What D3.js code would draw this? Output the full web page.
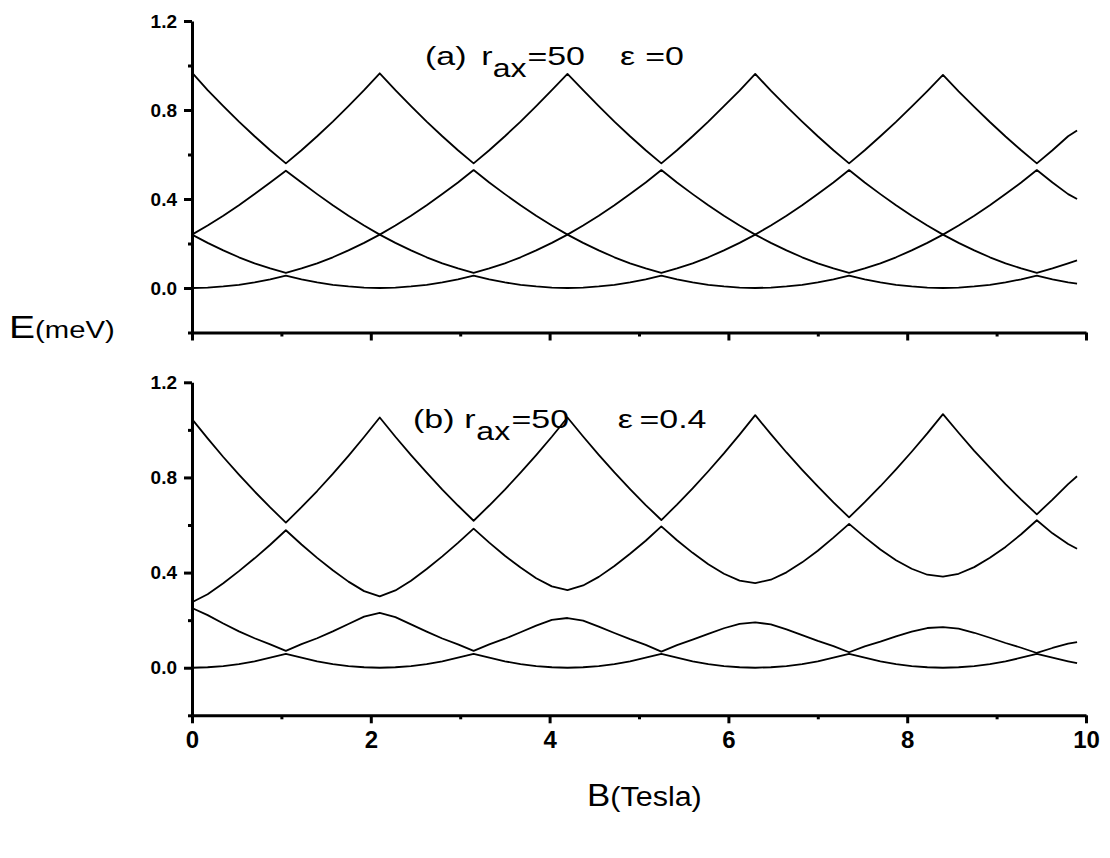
<!DOCTYPE html>
<html lang="en">
<head>
<meta charset="utf-8">
<title>E(meV) vs B(Tesla)</title>
<script src="https://cdn.jsdelivr.net/npm/d3@7"></script>
<style>
  body { margin: 0; background: #fff; }
  svg { display: block; }
  .axis path, .axis line { stroke: #000; stroke-width: 3; }
  .axis text { fill: #000; }
  .level { fill: none; stroke: #000; stroke-width: 1.8; stroke-linejoin: round; }
  .lbl { font-family: "Liberation Sans", Arial, sans-serif; fill: #000; }
</style>
</head>
<body>
<svg id="chart" width="1110" height="858"></svg>
<script>
// magnetic field samples (Tesla)
var bField = [0, 0.175, 0.35, 0.525, 0.7, 0.875, 1.05, 1.225, 1.4, 1.575, 1.75, 1.925,
  2.1, 2.275, 2.45, 2.625, 2.8, 2.975, 3.15, 3.325, 3.5, 3.675, 3.85, 4.025,
  4.2, 4.375, 4.55, 4.725, 4.9, 5.075, 5.25, 5.425, 5.6, 5.775, 5.95, 6.125,
  6.3, 6.475, 6.65, 6.825, 7.0, 7.175, 7.35, 7.525, 7.7, 7.875, 8.05, 8.225,
  8.4, 8.575, 8.75, 8.925, 9.1, 9.275, 9.45, 9.625, 9.8, 9.9];

// (a) eps = 0, four lowest levels (meV)
var topE1 = [0, 0.002, 0.007, 0.014, 0.025, 0.039, 0.056, 0.039, 0.025, 0.014, 0.007, 0.002,
  0, 0.002, 0.007, 0.014, 0.025, 0.039, 0.056, 0.039, 0.025, 0.014, 0.007, 0.002,
  0, 0.002, 0.007, 0.014, 0.025, 0.039, 0.056, 0.039, 0.025, 0.014, 0.007, 0.002,
  0, 0.002, 0.007, 0.014, 0.025, 0.039, 0.056, 0.039, 0.025, 0.014, 0.007, 0.002,
  0, 0.002, 0.007, 0.014, 0.025, 0.039, 0.056, 0.039, 0.025, 0.020];
var topE2 = [0.240, 0.203, 0.169, 0.138, 0.111, 0.088, 0.068, 0.088, 0.111, 0.138, 0.169, 0.203,
  0.240, 0.203, 0.169, 0.138, 0.111, 0.088, 0.068, 0.088, 0.111, 0.138, 0.169, 0.203,
  0.240, 0.203, 0.169, 0.138, 0.111, 0.088, 0.068, 0.088, 0.111, 0.138, 0.169, 0.203,
  0.240, 0.203, 0.169, 0.138, 0.111, 0.088, 0.068, 0.088, 0.111, 0.138, 0.169, 0.203,
  0.240, 0.203, 0.169, 0.138, 0.111, 0.088, 0.068, 0.088, 0.111, 0.124];
var topE3 = [0.240, 0.281, 0.325, 0.372, 0.422, 0.474, 0.527, 0.474, 0.422, 0.372, 0.325, 0.281,
  0.240, 0.281, 0.325, 0.372, 0.422, 0.474, 0.530, 0.474, 0.422, 0.372, 0.325, 0.281,
  0.240, 0.281, 0.325, 0.372, 0.422, 0.474, 0.530, 0.474, 0.422, 0.372, 0.325, 0.281,
  0.240, 0.281, 0.325, 0.372, 0.422, 0.474, 0.530, 0.474, 0.422, 0.372, 0.325, 0.281,
  0.240, 0.281, 0.325, 0.372, 0.422, 0.474, 0.530, 0.474, 0.422, 0.400];
var topE4 = [0.968, 0.889, 0.817, 0.748, 0.682, 0.619, 0.560, 0.619, 0.682, 0.748, 0.817, 0.889,
  0.965, 0.889, 0.817, 0.748, 0.682, 0.619, 0.560, 0.619, 0.682, 0.748, 0.817, 0.889,
  0.962, 0.889, 0.817, 0.748, 0.682, 0.619, 0.560, 0.619, 0.682, 0.748, 0.817, 0.887,
  0.962, 0.887, 0.816, 0.748, 0.682, 0.619, 0.560, 0.619, 0.682, 0.747, 0.815, 0.885,
  0.958, 0.884, 0.814, 0.746, 0.681, 0.619, 0.560, 0.619, 0.682, 0.708];

// (b) eps = 0.4
var botE1 = [0, 0.002, 0.007, 0.015, 0.027, 0.042, 0.058, 0.042, 0.027, 0.015, 0.007, 0.002,
  0, 0.002, 0.007, 0.015, 0.027, 0.042, 0.058, 0.042, 0.027, 0.015, 0.007, 0.002,
  0, 0.002, 0.007, 0.015, 0.027, 0.042, 0.058, 0.042, 0.027, 0.015, 0.007, 0.002,
  0, 0.002, 0.007, 0.015, 0.027, 0.042, 0.058, 0.042, 0.027, 0.015, 0.007, 0.002,
  0, 0.002, 0.007, 0.015, 0.027, 0.042, 0.058, 0.042, 0.027, 0.019];
var botE2 = [0.251, 0.221, 0.186, 0.153, 0.124, 0.098, 0.071, 0.099, 0.124, 0.153, 0.184, 0.215,
  0.231, 0.213, 0.182, 0.152, 0.123, 0.098, 0.071, 0.098, 0.122, 0.149, 0.177, 0.201,
  0.209, 0.198, 0.173, 0.146, 0.120, 0.096, 0.068, 0.095, 0.118, 0.142, 0.166, 0.184,
  0.191, 0.182, 0.161, 0.137, 0.113, 0.091, 0.065, 0.090, 0.110, 0.132, 0.152, 0.167,
  0.171, 0.164, 0.147, 0.126, 0.104, 0.084, 0.062, 0.083, 0.101, 0.108];
var botE3 = [0.275, 0.309, 0.355, 0.406, 0.460, 0.517, 0.578, 0.518, 0.462, 0.410, 0.362, 0.322,
  0.300, 0.325, 0.366, 0.415, 0.468, 0.525, 0.585, 0.526, 0.471, 0.421, 0.376, 0.342,
  0.326, 0.346, 0.382, 0.428, 0.479, 0.534, 0.594, 0.536, 0.483, 0.435, 0.395, 0.366,
  0.356, 0.370, 0.401, 0.443, 0.492, 0.547, 0.605, 0.549, 0.497, 0.452, 0.416, 0.391,
  0.383, 0.395, 0.423, 0.462, 0.508, 0.561, 0.620, 0.565, 0.520, 0.500];
var botE4 = [1.045, 0.964, 0.886, 0.812, 0.741, 0.674, 0.610, 0.675, 0.743, 0.815, 0.891, 0.970,
  1.052, 0.971, 0.894, 0.820, 0.749, 0.682, 0.618, 0.682, 0.749, 0.820, 0.894, 0.971,
  1.052, 0.972, 0.895, 0.821, 0.751, 0.684, 0.621, 0.686, 0.754, 0.826, 0.901, 0.980,
  1.062, 0.982, 0.905, 0.832, 0.762, 0.695, 0.632, 0.696, 0.763, 0.834, 0.908, 0.985,
  1.066, 0.988, 0.912, 0.841, 0.772, 0.707, 0.645, 0.707, 0.772, 0.805];

var yMajor = [0, 0.4, 0.8, 1.2];
var yMinor = [-0.2, 0.2, 0.6, 1.0];
var xMajor = [0, 2, 4, 6, 8, 10];
var xMinor = [1, 3, 5, 7, 9];

var svg = d3.select('#chart');
var x = d3.scaleLinear().domain([0, 10]).range([192, 1086]);
var font = '"Liberation Sans", Arial, sans-serif';

var drawPanel = function(top, bottom, levels, showXLabels) {
  var y = d3.scaleLinear().domain([-0.2, 1.2]).range([bottom, top]);
  var g = svg.append('g');

  var line = d3.line()
    .x(function(d) { return x(d[0]); })
    .y(function(d) { return y(d[1]); });

  levels.forEach(function(vals) {
    g.append('path')
      .attr('class', 'level')
      .attr('d', line(bField.map(function(b, i) { return [b, vals[i]]; })));
  });

  var ya = g.append('g').attr('class', 'axis').attr('transform', 'translate(' + x(0) + ',0)');
  ya.call(d3.axisLeft(y).tickValues(yMajor).tickSize(8).tickSizeOuter(0)
    .tickPadding(7).tickFormat(d3.format('.1f')));
  ya.selectAll('text').attr('font-family', font).attr('font-size', 19).attr('font-weight', 'bold');
  var ym = g.append('g').attr('class', 'axis').attr('transform', 'translate(' + x(0) + ',0)');
  ym.call(d3.axisLeft(y).tickValues(yMinor).tickSize(4).tickFormat(''));
  ym.select('.domain').remove();

  var xa = g.append('g').attr('class', 'axis').attr('transform', 'translate(0,' + bottom + ')');
  xa.call(d3.axisBottom(x).tickValues(xMajor).tickSize(8).tickSizeOuter(0)
    .tickPadding(8).tickFormat(showXLabels ? d3.format('d') : ''));
  xa.selectAll('text').attr('font-family', font).attr('font-size', 24).attr('font-weight', 'bold');
  var xm = g.append('g').attr('class', 'axis').attr('transform', 'translate(0,' + bottom + ')');
  xm.call(d3.axisBottom(x).tickValues(xMinor).tickSize(4).tickFormat(''));
  xm.select('.domain').remove();
};

drawPanel(21, 332.5, [topE1, topE2, topE3, topE4], false);
drawPanel(382.3, 715.3, [botE1, botE2, botE3, botE4], true);

// panel titles, glyphs a little wider than plain Arial
var addTitle = function(x0, base, pieces) {
  var t = svg.append('text')
    .attr('class', 'lbl')
    .attr('font-size', 26.5)
    .attr('transform', 'translate(' + x0 + ',' + base + ') scale(1.28,1)');
  pieces.forEach(function(p) {
    var s = t.append('tspan').attr('x', p[1]).attr('y', p[2]).text(p[0]);
    if (p[2] > 0) s.attr('font-size', 25);
  });
};
addTitle(425, 65, [['(a)', 0, 0], ['r', 44, 0], ['ax', 53, 12], ['=50', 80, 0],
  ['\u03b5', 152.3, 0], ['=0', 172, 0]]);
addTitle(413, 428, [['(b)', 0, 0], ['r', 40, 0], ['ax', 49.5, 12], ['=50', 77, 0],
  ['\u03b5', 160, 0], ['=0.4', 177, 0]]);

// axis titles
var yt = svg.append('text').attr('class', 'lbl')
  .attr('transform', 'translate(9,338) scale(1.22,1)');
yt.append('tspan').attr('font-size', 32).text('E');
yt.append('tspan').attr('font-size', 24).text('(meV)');

var xt = svg.append('text').attr('class', 'lbl')
  .attr('transform', 'translate(587,806) scale(1.09,1)');
xt.append('tspan').attr('font-size', 32).text('B');
xt.append('tspan').attr('font-size', 28).text('(Tesla)');
</script>
</body>
</html>
